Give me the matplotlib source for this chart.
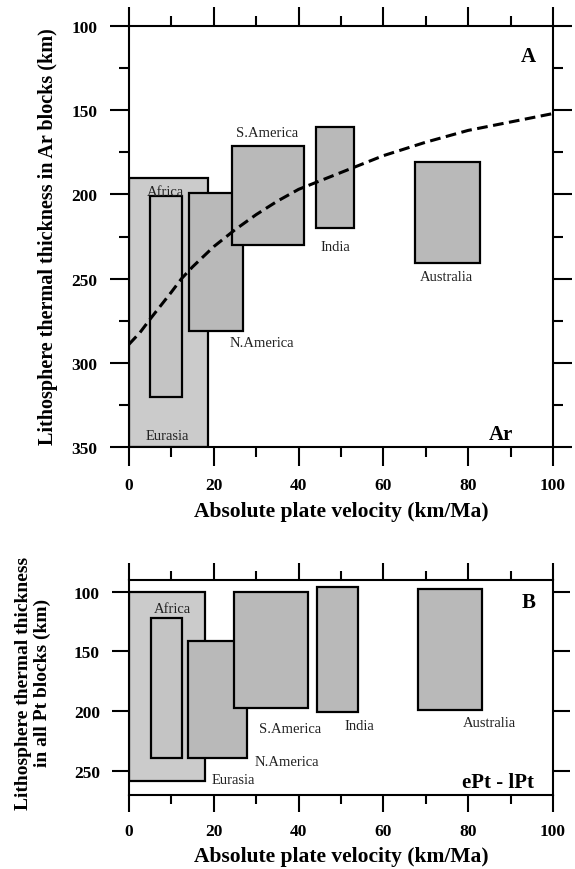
import matplotlib.pyplot as plt
from matplotlib.patches import Rectangle
from matplotlib.ticker import MultipleLocator

plt.rcParams['font.family'] = ['Liberation Serif', 'DejaVu Serif']

# panel A: Archean blocks (x0, x1, y_top, y_bottom)
a_names = ["Eurasia", "Africa", "N.America", "S.America", "India", "Australia"]
a_x0 = [0, 5, 14.2, 24.4, 44, 67.5]
a_x1 = [18.6, 12.4, 26.8, 41.3, 53, 82.8]
a_top = [190, 201, 199, 171, 160, 181]
a_bot = [350, 320, 281, 230, 220, 241]
a_lab_x = [9, 8.5, 31.4, 32.5, 48.6, 74.9]
a_lab_y = [343, 198, 288, 163, 231, 249]

# dashed trend curve
curve_x = [0, 2.6, 5, 10, 12.4, 15, 20, 25, 30, 35, 40, 45, 50, 55, 60, 70, 80, 90, 100]
curve_y = [289, 282, 274, 258, 250, 243, 231, 221, 212, 204, 197, 192, 187, 182, 177, 169, 162, 157, 152]

# panel B: Proterozoic blocks
b_names = ["Eurasia", "Africa", "N.America", "S.America", "India", "Australia"]
b_x0 = [0, 5.1, 14, 24.8, 44.4, 68.2]
b_x1 = [18, 12.4, 27.9, 42.3, 53.9, 83.3]
b_top = [100, 122, 141, 100, 96, 98]
b_bot = [258, 239, 239, 197, 201, 199]
b_lab_x = [24.5, 10.3, 37.2, 37.9, 54.4, 84.9]
b_lab_y = [257, 114, 242, 214, 212, 209]

fills = ["#cbcbcb", "#c4c4c4", "#b9b9b9", "#b9b9b9", "#b9b9b9", "#b9b9b9"]

fig = plt.figure(figsize=(5.75, 8.7), dpi=100)
axA = fig.add_axes([0.2243, 0.485, 0.7374, 0.484])
axB = fig.add_axes([0.2243, 0.0851, 0.7374, 0.2474])


def style(ax, ymin, ymax, ymajor, yminor, big, small):
    ax.set_xlim(0, 100)
    ax.set_ylim(ymax, ymin)
    ax.xaxis.set_major_locator(MultipleLocator(20))
    ax.xaxis.set_minor_locator(MultipleLocator(10))
    ax.yaxis.set_major_locator(MultipleLocator(ymajor))
    if yminor:
        ax.yaxis.set_minor_locator(MultipleLocator(yminor))
    else:
        ax.yaxis.set_minor_locator(plt.NullLocator())
    ax.tick_params(which='both', direction='out', top=True, right=True, width=1.5)
    ax.tick_params(which='major', length=big)
    ax.tick_params(which='minor', length=small)
    ax.tick_params(axis='y', labelsize=12.5, pad=9)
    ax.tick_params(axis='x', labelsize=12.5, pad=8)
    for lab in ax.get_xticklabels() + ax.get_yticklabels():
        lab.set_fontweight('bold')
    for s in ax.spines.values():
        s.set_linewidth(1.5)


def boxes(ax, x0, x1, top, bot, names, lx, ly):
    for i in range(len(names)):
        ax.add_patch(Rectangle((x0[i], top[i]), x1[i] - x0[i], bot[i] - top[i],
                               facecolor=fills[i], edgecolor='black', linewidth=1.6,
                               zorder=2 + i * 0.1))
        ax.text(lx[i], ly[i], names[i], fontsize=10.5, ha='center', va='center',
                color='#222222', zorder=5)


style(axA, 100, 350, 50, 25, 13.5, 7)
boxes(axA, a_x0, a_x1, a_top, a_bot, a_names, a_lab_x, a_lab_y)
axA.plot(curve_x, curve_y, color='black', linewidth=2.2, linestyle=(0, (3.5, 1.8)), zorder=6)
axA.text(94.2, 118, "A", fontsize=15, fontweight='bold', ha='center', va='center')
axA.text(87.7, 342, "Ar", fontsize=15, fontweight='bold', ha='center', va='center')

style(axB, 90, 270, 50, None, 12, 6.5)
boxes(axB, b_x0, b_x1, b_top, b_bot, b_names, b_lab_x, b_lab_y)
axB.text(94.2, 109, "B", fontsize=15, fontweight='bold', ha='center', va='center')
axB.text(87.1, 259, "ePt - lPt", fontsize=15, fontweight='bold', ha='center', va='center')

fig.text(0.5935, 0.4118, "Absolute plate velocity (km/Ma)", fontsize=15.5,
         fontweight='bold', ha='center', va='center')
fig.text(0.5935, 0.015, "Absolute plate velocity (km/Ma)", fontsize=15.5,
         fontweight='bold', ha='center', va='center')
fig.text(0.0835, 0.7276, "Lithosphere thermal thickness in Ar blocks (km)", fontsize=14.5,
         fontweight='bold', ha='center', va='center', rotation=90)
fig.text(0.058, 0.215, "Lithosphere thermal thickness\nin all Pt blocks (km)", fontsize=14,
         fontweight='bold', ha='center', va='center', rotation=90, linespacing=1.15)

fig.savefig("out.png", dpi=100)
